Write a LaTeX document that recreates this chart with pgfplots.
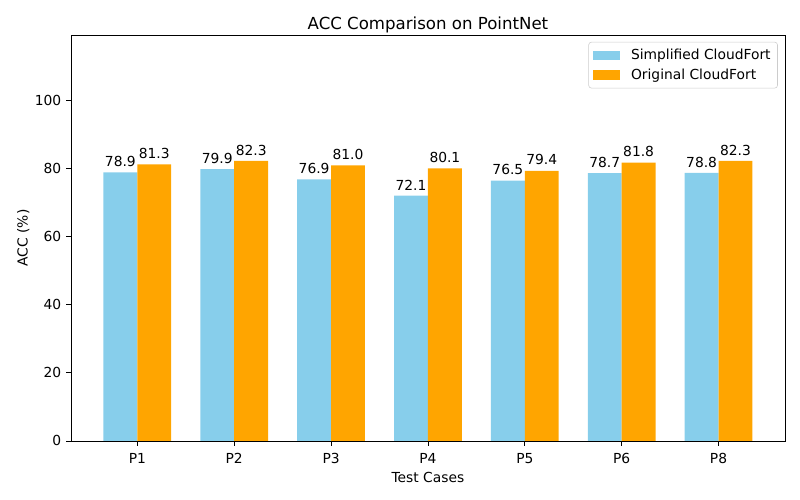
\documentclass[border=0pt]{standalone}
\usepackage{fontspec}
\setmainfont{DejaVu Sans}
\usepackage{pgfplots}
\pgfplotsset{compat=1.18}
\definecolor{skyblue}{RGB}{135,206,235}
\definecolor{mplorange}{RGB}{255,165,0}

\begin{document}
\begin{tikzpicture}
\useasboundingbox (-51.3pt,-42.6pt) rectangle (526.9pt,318.7pt);
\begin{axis}[
    at={(0,0)}, anchor=south west,
    scale only axis,
    width=516pt, height=293.4pt,
    ybar, bar width=0.35,
    bar shift auto=false,
    xmin=-0.685, xmax=6.685,
    ymin=0, ymax=119.3,
    xtick={0,1,2,3,4,5,6},
    xticklabels={P1,P2,P3,P4,P5,P6,P8},
    ytick={0,20,40,60,80,100},
    tick align=outside, xtick pos=bottom, ytick pos=left,
    major tick length=3.5pt,
    tick style={black, line width=0.6pt},
    axis line style={line width=0.6pt},
    /pgf/number format/assume math mode=true,
    ticklabel style={font=\fontsize{10}{12}\selectfont},
    xticklabel style={yshift=-2pt},
    xlabel={Test Cases}, ylabel={ACC (\%)},
    xlabel style={yshift=0.5pt},
    ylabel style={yshift=-3pt},
    label style={font=\fontsize{10}{12}\selectfont},
    title={ACC Comparison on PointNet},
    title style={font=\fontsize{12}{14}\selectfont, yshift=-8pt},
    nodes near coords,
    nodes near coords style={font=\fontsize{10}{12}\selectfont, /pgf/number format/fixed, /pgf/number format/fixed zerofill, /pgf/number format/precision=1, yshift=0.5pt},
    legend style={at={(0.99,0.983)}, anchor=north east, draw=black!20, rounded corners=2pt,
        font=\fontsize{10}{12}\selectfont, legend cell align=left, row sep=1pt, inner sep=3pt},
    legend image code/.code={\fill[#1, sharp corners] (0cm,-0.12cm) rectangle (0.7cm,0.12cm); \path (0.9cm,0);},
]
\addplot[fill=skyblue, draw=none, bar shift=-0.175] coordinates {(0,78.9) (1,79.9) (2,76.9) (3,72.1) (4,76.5) (5,78.7) (6,78.8)};
\addplot[fill=mplorange, draw=none, bar shift=0.175] coordinates {(0,81.3) (1,82.3) (2,81.0) (3,80.1) (4,79.4) (5,81.8) (6,82.3)};
\legend{Simplified CloudFort, Original CloudFort}
\end{axis}
\end{tikzpicture}
\end{document}
